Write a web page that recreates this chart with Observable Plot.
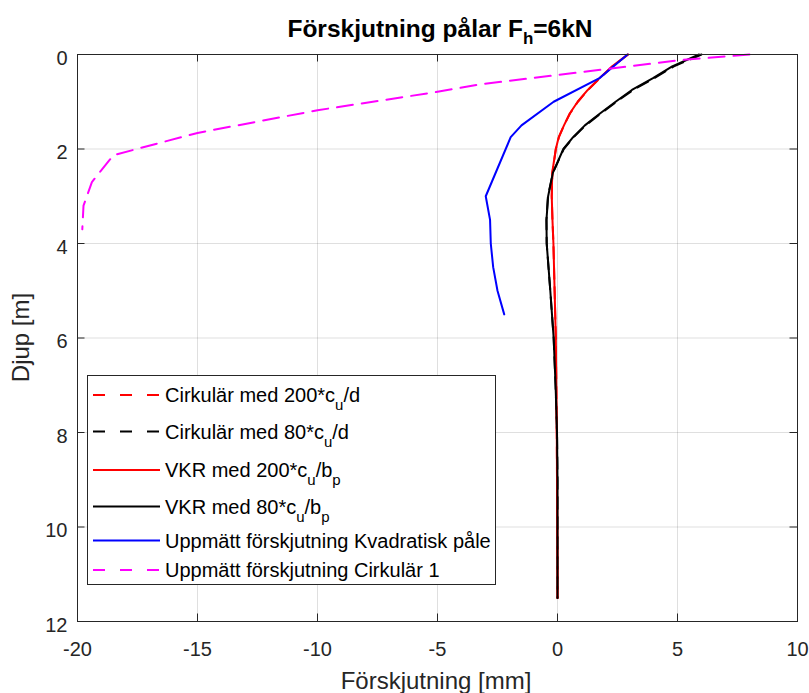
<!DOCTYPE html>
<html>
<head>
<meta charset="utf-8">
<script src="https://cdn.jsdelivr.net/npm/d3@7"></script>
<script src="https://cdn.jsdelivr.net/npm/@observablehq/plot@0.6"></script>
<style>
  body { margin: 0; background: #fff; }
  #chart { width: 809px; height: 693px; }
</style>
</head>
<body>
<div id="chart"></div>
<script>
// Axis ticks
const xTicks = [-20, -15, -10, -5, 0, 5, 10];
const yTicks = [0, 2, 4, 6, 8, 10, 12];

// Calculated pile deflection (mm) against depth (m)
const modelDepth = [0, 0.25, 0.5, 0.75, 1, 1.25, 1.5, 1.75, 2, 2.5, 3, 3.5, 4, 5, 6, 7, 8, 9, 10, 11, 11.5];
const cirk200 = [2.95, 2.30, 1.77, 1.27, 0.85, 0.52, 0.27, 0.06, -0.07, -0.21, -0.24, -0.21, -0.17, -0.12, -0.07, -0.05, -0.03, -0.02, -0.01, 0, 0];
const cirk80  = [6.00, 4.85, 4.04, 3.15, 2.46, 1.80, 1.17, 0.67, 0.26, -0.19, -0.40, -0.46, -0.45, -0.30, -0.16, -0.08, -0.02, 0, 0, 0, 0];
const vkr200  = [2.92, 2.28, 1.75, 1.26, 0.84, 0.51, 0.27, 0.05, -0.07, -0.22, -0.24, -0.21, -0.17, -0.12, -0.07, -0.05, -0.03, -0.02, -0.01, 0, 0];
const vkr80   = [5.90, 4.78, 3.98, 3.10, 2.42, 1.77, 1.14, 0.65, 0.245, -0.19, -0.39, -0.46, -0.45, -0.30, -0.16, -0.08, -0.02, 0, 0, 0, 0];

// Measured deflection, square pile
const kvadratDepth = [0, 0.5, 1.0, 1.5, 1.75, 3.0, 3.5, 4.0, 4.5, 5.0, 5.5];
const kvadratDisp  = [2.92, 1.75, -0.16, -1.50, -1.95, -2.99, -2.81, -2.78, -2.68, -2.50, -2.22];

// Measured deflection, circular pile 1
const cirk1Depth = [0, 0.12, 0.63, 0.79, 1.18, 1.66, 2.13, 2.7, 3.2, 3.7];
const cirk1Disp  = [8.0, 5.1, -3.2, -5.0, -10.0, -15.0, -18.5, -19.4, -19.75, -19.8];

// Legend labels: [text, isSubscript]
const legendLabels = [
  [["Cirkulär med 200*c", false], ["u", true], ["/d", false]],
  [["Cirkulär med 80*c", false], ["u", true], ["/d", false]],
  [["VKR med 200*c", false], ["u", true], ["/b", false], ["p", true]],
  [["VKR med 80*c", false], ["u", true], ["/b", false], ["p", true]],
  [["Uppmätt förskjutning Kvadratisk påle", false]],
  [["Uppmätt förskjutning Cirkulär 1", false]]
];

const titleParts = [["Förskjutning pålar F", false], ["h", true], ["=6kN", false]];
const xLabel = "Förskjutning [mm]";
const yLabel = "Djup [m]";

const toRows = (depths, disps) => depths.map((d, i) => ({depth: d, disp: disps[i]}));

const series = [
  {rows: toRows(modelDepth, cirk200), stroke: "#ff0000", dash: "12,8"},
  {rows: toRows(modelDepth, cirk80), stroke: "#000000", dash: "12,8"},
  {rows: toRows(modelDepth, vkr200), stroke: "#ff0000", dash: null},
  {rows: toRows(modelDepth, vkr80), stroke: "#000000", dash: null},
  {rows: toRows(kvadratDepth, kvadratDisp), stroke: "#0000ff", dash: null},
  {rows: toRows(cirk1Depth, cirk1Disp), stroke: "#ff00ff", dash: "16,9"}
];

const W = 809, H = 693;
const mTop = 54, mBottom = 72, mLeft = 77, mRight = 12;
const plotW = W - mLeft - mRight, plotH = H - mTop - mBottom;
const tickLen = 7.5;
const axisColor = "#262626";

const chart = Plot.plot({
  width: W,
  height: H,
  marginTop: mTop,
  marginBottom: mBottom,
  marginLeft: mLeft,
  marginRight: mRight,
  style: {fontFamily: "'Liberation Sans', Arial, sans-serif", fontSize: "20px", color: axisColor, background: "#fff"},
  x: {domain: [-20, 10]},
  y: {domain: [0, 12], reverse: true},
  marks: [
    Plot.gridX(xTicks, {stroke: axisColor, strokeOpacity: 0.15}),
    Plot.gridY(yTicks, {stroke: axisColor, strokeOpacity: 0.15}),
    ...series.map(s => Plot.line(s.rows, {
      x: "disp", y: "depth", stroke: s.stroke, strokeWidth: 2,
      strokeDasharray: s.dash ?? undefined, strokeLinejoin: "round"
    })),
    // inward ticks on all four sides
    Plot.tickX(xTicks, {x: d => d, stroke: axisColor, insetTop: plotH - tickLen}),
    Plot.tickX(xTicks, {x: d => d, stroke: axisColor, insetBottom: plotH - tickLen}),
    Plot.tickY(yTicks, {y: d => d, stroke: axisColor, insetRight: plotW - tickLen}),
    Plot.tickY(yTicks, {y: d => d, stroke: axisColor, insetLeft: plotW - tickLen}),
    Plot.axisX(xTicks, {anchor: "bottom", tickSize: 0, tickPadding: 20, tickFormat: d => String(d), label: null, fontSize: 20, fill: axisColor}),
    Plot.axisY(yTicks, {anchor: "left", tickSize: 0, tickPadding: 10, tickFormat: d => String(d), label: null, fontSize: 20, dy: 4, fill: axisColor}),
    Plot.frame({stroke: axisColor, strokeWidth: 1})
  ]
});

document.getElementById("chart").appendChild(chart);

const svg = d3.select(chart);
const font = "'Liberation Sans', Arial, sans-serif";

// Writes a label made of normal and subscript pieces into a text element
function addParts(text, parts, subSize, subShift) {
  let inSub = false;
  for (const [str, sub] of parts) {
    const t = text.append("tspan").text(str);
    if (sub) {
      t.attr("font-size", subSize).attr("dy", subShift);
      inSub = true;
    } else if (inSub) {
      t.attr("dy", -subShift);
      inSub = false;
    }
  }
}

// Title
const title = svg.append("text")
  .attr("x", mLeft + plotW / 2 + 3).attr("y", 37)
  .attr("text-anchor", "middle")
  .attr("font-family", font).attr("font-weight", "bold").attr("font-size", 24.5)
  .attr("fill", "#000");
addParts(title, titleParts, 17, 7);

// Axis labels
svg.append("text")
  .attr("x", mLeft + plotW / 2 - 1).attr("y", 689)
  .attr("text-anchor", "middle")
  .attr("font-family", font).attr("font-size", 24).attr("fill", axisColor)
  .text(xLabel);
svg.append("text")
  .attr("transform", `translate(29,${mTop + plotH / 2}) rotate(-90)`)
  .attr("text-anchor", "middle")
  .attr("font-family", font).attr("font-size", 24).attr("fill", axisColor)
  .text(yLabel);

// Legend
const legend = svg.append("g");
const box = {x: 87.5, y: 375.5, w: 408, h: 209};
legend.append("rect")
  .attr("x", box.x).attr("y", box.y).attr("width", box.w).attr("height", box.h)
  .attr("fill", "#fff").attr("stroke", axisColor).attr("stroke-width", 1);
const rowY = [395, 431.5, 470, 506.5, 540.5, 570];
series.forEach((s, i) => {
  legend.append("line")
    .attr("x1", 93).attr("x2", 160).attr("y1", rowY[i]).attr("y2", rowY[i])
    .attr("stroke", s.stroke).attr("stroke-width", 2)
    .attr("stroke-dasharray", s.dash ? "12,15" : null);
  const t = legend.append("text")
    .attr("x", 165).attr("y", rowY[i] + 7)
    .attr("text-anchor", "start")
    .attr("font-family", font).attr("font-size", 20).attr("fill", "#000");
  addParts(t, legendLabels[i], 15, 8);
});
</script>
</body>
</html>
